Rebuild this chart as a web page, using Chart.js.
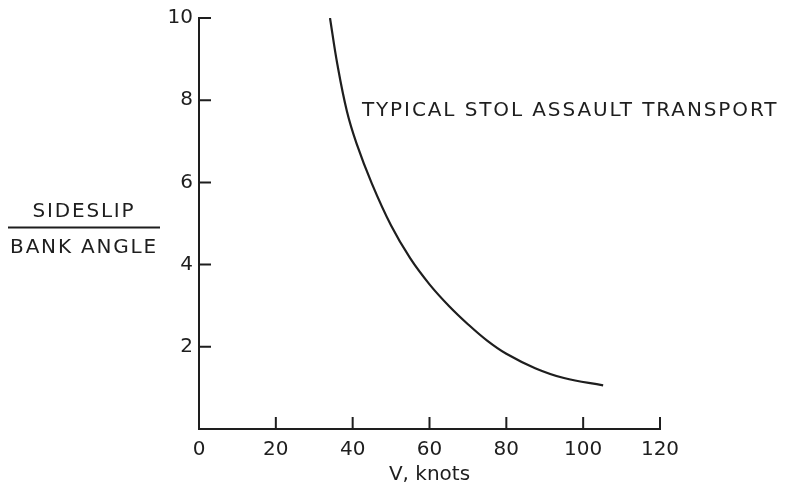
<!DOCTYPE html>
<html>
<head>
<meta charset="utf-8">
<script src="https://cdn.jsdelivr.net/npm/chart.js@4/dist/chart.umd.min.js"></script>
<style>
  html, body { margin: 0; padding: 0; background: #fff; }
  #wrap { width: 792px; height: 487px; }
</style>
</head>
<body>
<div id="wrap"><canvas id="stolChart"></canvas></div>
<script>
// values
const speedKnots = [34.1, 36, 38.5, 41, 45, 50, 55, 60, 65, 70, 75, 80, 87.5, 95, 105.2];
const sideslipRatio = [10, 8.88, 7.73, 6.95, 5.97, 4.95, 4.15, 3.52, 3.0, 2.55, 2.15, 1.83, 1.48, 1.24, 1.06];
const xTickValues = [0, 20, 40, 60, 80, 100, 120];
const yTickValues = [2, 4, 6, 8, 10];
const curveLabel = 'TYPICAL STOL ASSAULT TRANSPORT';
const yTitleTop = 'SIDESLIP';
const yTitleBottom = 'BANK ANGLE';
const xTitle = 'V, knots';

const ink = '#1e1e1e';
const fontFamily = '"DejaVu Sans", sans-serif';

// ticks point inward, like the old drafted axes
const inwardTicks = {
    id: 'inwardTicks',
    afterDraw(chart) {
        const ctx = chart.ctx;
        const xs = chart.scales.x, ys = chart.scales.y;
        const len = 12;
        ctx.save();
        ctx.strokeStyle = ink;
        ctx.lineWidth = 2;
        ctx.beginPath();
        xTickValues.forEach(v => {
            if (v === 0) return;
            const px = xs.getPixelForValue(v);
            ctx.moveTo(px, ys.bottom);
            ctx.lineTo(px, ys.bottom - len);
        });
        yTickValues.forEach(v => {
            const py = ys.getPixelForValue(v);
            ctx.moveTo(xs.left, py);
            ctx.lineTo(xs.left + len, py);
        });
        ctx.stroke();

        // curve label
        ctx.fillStyle = ink;
        ctx.font = '20px ' + fontFamily;
        ctx.letterSpacing = '1.9px';
        ctx.textAlign = 'left';
        ctx.textBaseline = 'middle';
        ctx.fillText(curveLabel, xs.getPixelForValue(42.4), ys.getPixelForValue(7.75));

        // y title as a fraction
        ctx.letterSpacing = '1.8px';
        const cx = 84;
        const midY = ys.getPixelForValue(4.9);
        ctx.textAlign = 'center';
        ctx.fillText(yTitleTop, cx, midY - 16);
        ctx.fillText(yTitleBottom, cx, midY + 20);
        ctx.beginPath();
        ctx.moveTo(8, midY);
        ctx.lineTo(160, midY);
        ctx.stroke();
        ctx.restore();
    }
};

const ctxChart = document.getElementById('stolChart').getContext('2d');
new Chart(ctxChart, {
    type: 'line',
    data: {
        datasets: [{
            data: speedKnots.map((v, i) => ({ x: v, y: sideslipRatio[i] })),
            borderColor: ink,
            borderWidth: 2.2,
            pointRadius: 0,
            fill: false,
            tension: 0.4
        }]
    },
    options: {
        responsive: true,
        maintainAspectRatio: false,
        animation: false,
        layout: { padding: { left: 0, right: 132, top: 18, bottom: 0 } },
        plugins: {
            legend: { display: false },
            tooltip: { enabled: false }
        },
        scales: {
            x: {
                type: 'linear',
                min: 0,
                max: 120,
                afterBuildTicks: scale => { scale.ticks = xTickValues.map(v => ({ value: v })); },
                afterFit: scale => { scale.height = 58; },
                grid: { display: false, drawTicks: false },
                border: { display: true, color: ink, width: 2 },
                ticks: { color: ink, font: { size: 20, family: fontFamily }, padding: 9, maxRotation: 0 },
                title: {
                    display: true,
                    text: xTitle,
                    color: ink,
                    font: { size: 20, family: fontFamily },
                    padding: { top: 0, bottom: 0 }
                }
            },
            y: {
                type: 'linear',
                min: 0,
                max: 10,
                afterBuildTicks: scale => { scale.ticks = yTickValues.map(v => ({ value: v })); },
                afterFit: scale => { scale.width = 199; },
                grid: { display: false, drawTicks: false },
                border: { display: true, color: ink, width: 2 },
                ticks: { color: ink, font: { size: 20, family: fontFamily }, padding: 6 }
            }
        }
    },
    plugins: [inwardTicks]
});
</script>
</body>
</html>
